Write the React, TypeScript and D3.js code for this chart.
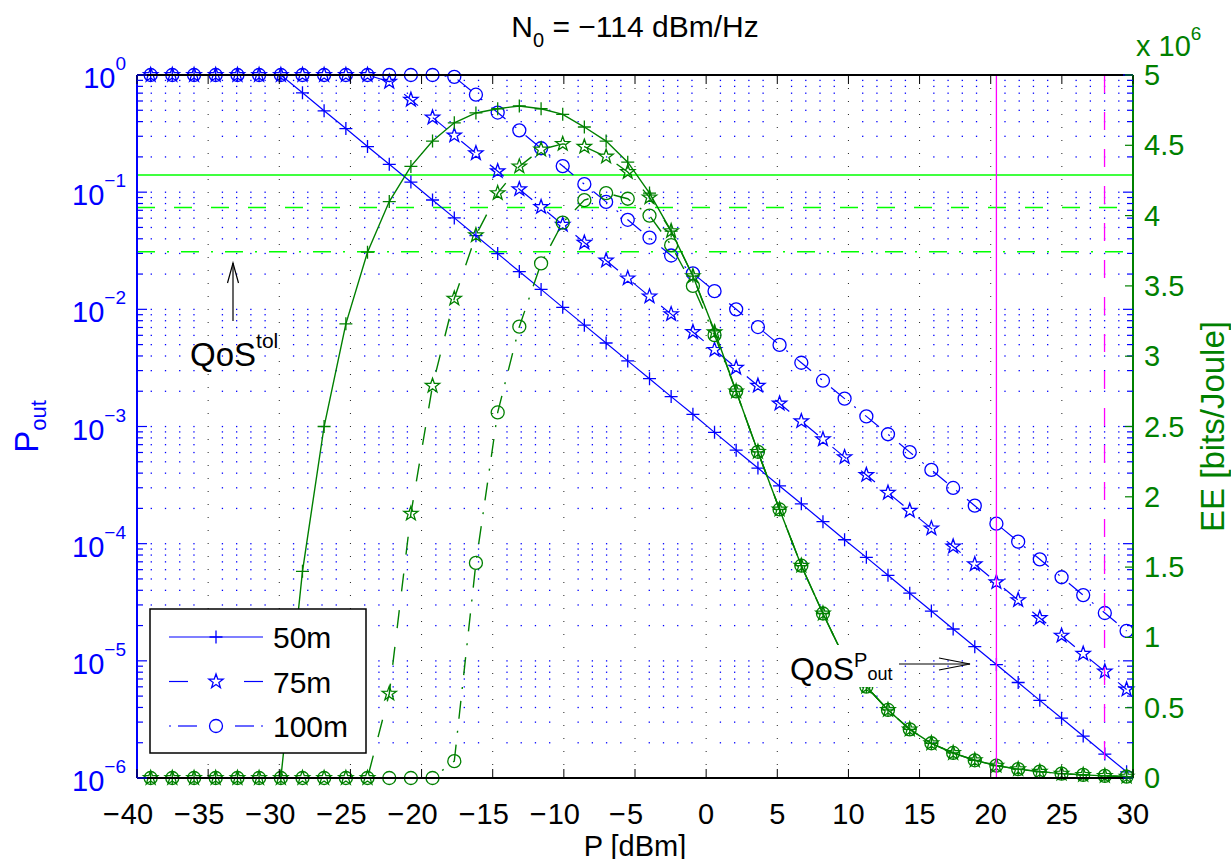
import React from "react";
import * as d3 from "d3";

// ---------- data ----------
const P_DBM = [
  -39.04, -37.52, -35.99, -34.47, -32.94, -31.42, -29.89, -28.37, -26.85, -25.32,
  -23.8, -22.27, -20.75, -19.23, -17.7, -16.18, -14.65, -13.13, -11.6, -10.08,
  -8.56, -7.03, -5.51, -3.98, -2.46, -0.93, 0.59, 2.11, 3.64, 5.16,
  6.69, 8.21, 9.73, 11.26, 12.78, 14.31, 15.83, 17.36, 18.88, 20.4,
  21.93, 23.45, 24.98, 26.5, 28.02, 29.55,
];

const POUT_50 = [
  1, 1, 1, 1, 1, 1, 1, 0.705, 0.495, 0.349,
  0.245, 0.173, 0.122, 0.0857, 0.0603, 0.0425, 0.0299, 0.021, 0.0148, 0.0104,
  7.33e-3, 5.16e-3, 3.63e-3, 2.56e-3, 1.8e-3, 1.27e-3, 8.91e-4, 6.28e-4, 4.42e-4, 3.11e-4,
  2.19e-4, 1.54e-4, 1.08e-4, 7.64e-5, 5.37e-5, 3.78e-5, 2.66e-5, 1.87e-5, 1.32e-5, 9.29e-6,
  6.53e-6, 4.6e-6, 3.24e-6, 2.28e-6, 1.6e-6, 1.13e-6,
];
const POUT_75 = [
  1, 1, 1, 1, 1, 1, 1, 1, 1, 1,
  1, 0.875, 0.615, 0.434, 0.305, 0.215, 0.151, 0.106, 0.0748, 0.0527,
  0.0371, 0.0261, 0.0184, 0.0129, 9.1e-3, 6.41e-3, 4.51e-3, 3.17e-3, 2.23e-3, 1.57e-3,
  1.11e-3, 7.78e-4, 5.48e-4, 3.86e-4, 2.72e-4, 1.91e-4, 1.35e-4, 9.46e-5, 6.67e-5, 4.69e-5,
  3.3e-5, 2.32e-5, 1.64e-5, 1.15e-5, 8.11e-6, 5.7e-6,
];
const POUT_100 = [
  1, 1, 1, 1, 1, 1, 1, 1, 1, 1,
  1, 1, 1, 1, 0.964, 0.679, 0.478, 0.337, 0.237, 0.167,
  0.117, 0.0826, 0.0581, 0.0409, 0.0288, 0.0203, 0.0143, 0.01, 7.06e-3, 4.97e-3,
  3.5e-3, 2.46e-3, 1.73e-3, 1.22e-3, 8.59e-4, 6.04e-4, 4.26e-4, 2.99e-4, 2.11e-4, 1.48e-4,
  1.04e-4, 7.35e-5, 5.17e-5, 3.64e-5, 2.56e-5, 1.8e-5,
];

// energy efficiency, in units of 10^6 bits/Joule
const EE_50 = [
  0, 0, 0, 0, 0, 0, 0, 1.47, 2.5, 3.23,
  3.74, 4.1, 4.35, 4.53, 4.66, 4.73, 4.76, 4.78, 4.76, 4.72,
  4.63, 4.53, 4.38, 4.16, 3.89, 3.57, 3.18, 2.75, 2.32, 1.91,
  1.51, 1.17, 0.85, 0.65, 0.484, 0.346, 0.247, 0.178, 0.126, 0.088,
  0.063, 0.045, 0.031, 0.022, 0.015, 0.01,
];
const EE_75 = [
  0, 0, 0, 0, 0, 0, 0, 0, 0, 0,
  0, 0.6, 1.88, 2.79, 3.41, 3.86, 4.16, 4.35, 4.47, 4.51,
  4.49, 4.42, 4.31, 4.13, 3.89, 3.57, 3.17, 2.75, 2.32, 1.91,
  1.51, 1.17, 0.85, 0.65, 0.484, 0.346, 0.247, 0.178, 0.126, 0.088,
  0.063, 0.045, 0.031, 0.022, 0.015, 0.01,
];
const EE_100 = [
  0, 0, 0, 0, 0, 0, 0, 0, 0, 0,
  0, 0, 0, 0, 0.12, 1.53, 2.6, 3.21, 3.66, 3.95,
  4.11, 4.16, 4.12, 4.0, 3.79, 3.5, 3.15, 2.75, 2.32, 1.91,
  1.51, 1.17, 0.85, 0.65, 0.484, 0.346, 0.247, 0.178, 0.126, 0.088,
  0.063, 0.045, 0.031, 0.022, 0.015, 0.01,
];

const SERIES_NAMES = ["50m", "75m", "100m"];
const X_TICKS = [-40, -35, -30, -25, -20, -15, -10, -5, 0, 5, 10, 15, 20, 25, 30];
const POUT_EXPONENTS = [0, -1, -2, -3, -4, -5, -6];
const EE_TICKS = [0, 0.5, 1, 1.5, 2, 2.5, 3, 3.5, 4, 4.5, 5];
const QOS_TOL_LEVELS = [0.14, 0.074, 0.031]; // P_out tolerance lines (solid, dashed, dash-dot)
const QOS_POWER = [20.4, 28.0]; // power where QoS is met (solid, dashed)

// ---------- styling ----------
const BLUE = "#0000ff";
const DGREEN = "#008000";
const LGREEN = "#00ff00";
const MAGENTA = "#ff00ff";
const FONT = "'Liberation Sans', Arial, Helvetica, sans-serif";
const DASH = "18,19";
const DASHDOT = "18,12,2,12";
const STYLES = [null, DASH, DASHDOT];
const MARKERS = ["plus", "star", "circle"];

const L = 137, R = 1133, T = 75, B = 778;
const TICK_FS = 29;

function plusPath(cx: number, cy: number, s = 6.5) {
  return `M${cx - s},${cy}H${cx + s}M${cx},${cy - s}V${cy + s}`;
}
function starPath(cx: number, cy: number, r = 7.5) {
  const pts: string[] = [];
  for (let k = 0; k < 10; k++) {
    const a = -Math.PI / 2 + (k * Math.PI) / 5;
    const rr = k % 2 === 0 ? r : r * 0.4;
    pts.push(`${(cx + rr * Math.cos(a)).toFixed(2)},${(cy + rr * Math.sin(a)).toFixed(2)}`);
  }
  return "M" + pts.join("L") + "Z";
}

function Marker({ type, cx, cy, color }: { type: string; cx: number; cy: number; color: string }) {
  if (type === "plus") return <path d={plusPath(cx, cy)} stroke={color} strokeWidth={1.3} fill="none" />;
  if (type === "star") return <path d={starPath(cx, cy)} stroke={color} strokeWidth={1.3} fill="none" />;
  return <circle cx={cx} cy={cy} r={6.5} stroke={color} strokeWidth={1.3} fill="none" />;
}

// legend line pieces (x offsets from the legend line start), per line style
const LEGEND_SEGMENTS: number[][][] = [
  [[0, 94]],
  [[0, 19], [75, 94]],
  [[0, 2], [9, 28], [66, 85], [92, 94]],
];

export default function App() {
  const x = d3.scaleLinear().domain([-40, 30]).range([L, R]);
  const yL = d3.scaleLog().domain([1e-6, 1]).range([B, T]);
  const yR = d3.scaleLinear().domain([0, 5]).range([B, T]);

  const poutSeries = [POUT_50, POUT_75, POUT_100];
  const eeSeries = [EE_50, EE_75, EE_100];

  const lineL = d3.line<number>().x((_, i) => x(P_DBM[i])).y((v) => yL(v));
  const lineR = d3.line<number>().x((_, i) => x(P_DBM[i])).y((v) => yR(v));

  // grid
  const minorRows: number[] = [];
  d3.range(-6, 0).forEach((k) => {
    d3.range(1, 10).forEach((m) => {
      const v = m * Math.pow(10, k);
      if (v > 1.5e-6) minorRows.push(v);
    });
  });
  const minorCols = d3.range(-39, 30).filter((d) => d % 5 !== 0);
  const dots: JSX.Element[] = [];
  minorRows.forEach((v, ri) => {
    minorCols.forEach((c, ci) => {
      dots.push(
        <rect key={`d${ri}-${ci}`} x={x(c) - 0.6} y={yL(v) - 0.6} width={1.3} height={1.3} fill={BLUE} />
      );
    });
  });

  const yTicksMinor: number[] = minorRows.filter((v) => Math.abs(Math.log10(v) - Math.round(Math.log10(v))) > 1e-6);

  const digitW = 0.556 * TICK_FS;

  return (
    <div style={{ position: "absolute", left: 0, top: 0 }}>
      <svg width={1231} height={859} style={{ display: "block", background: "#fff" }} fontFamily={FONT}>
        {/* grid */}
        <g>{dots}</g>
        {X_TICKS.filter((d) => d > -40 && d < 30).map((d) => (
          <line key={`vg${d}`} x1={x(d)} x2={x(d)} y1={T} y2={B} stroke="#222" strokeWidth={1} strokeDasharray="1,12" />
        ))}

        {/* QoS tolerance lines */}
        {QOS_TOL_LEVELS.map((v, i) => (
          <line key={`tol${i}`} x1={L} x2={R} y1={yL(v)} y2={yL(v)} stroke={LGREEN} strokeWidth={1.5}
            strokeDasharray={STYLES[i] || undefined} />
        ))}

        {/* P_out curves */}
        {poutSeries.map((s, si) => (
          <g key={`pl${si}`}>
            <path d={lineL(s) || ""} fill="none" stroke={BLUE} strokeWidth={1.2} strokeDasharray={STYLES[si] || undefined} />
            {s.map((v, i) => (
              <Marker key={i} type={MARKERS[si]} cx={x(P_DBM[i])} cy={yL(v)} color={BLUE} />
            ))}
          </g>
        ))}

        {/* EE curves */}
        {eeSeries.map((s, si) => (
          <g key={`el${si}`}>
            <path d={lineR(s) || ""} fill="none" stroke={DGREEN} strokeWidth={1.4} strokeDasharray={STYLES[si] || undefined} />
            {s.map((v, i) => (
              <Marker key={i} type={MARKERS[si]} cx={x(P_DBM[i])} cy={yR(v)} color={DGREEN} />
            ))}
          </g>
        ))}

        {/* QoS power lines */}
        {QOS_POWER.map((p, i) => (
          <line key={`qp${i}`} x1={x(p)} x2={x(p)} y1={T} y2={B} stroke={MAGENTA} strokeWidth={1.3}
            strokeDasharray={STYLES[i] || undefined} />
        ))}

        {/* axes box */}
        <line x1={L} x2={R} y1={T} y2={T} stroke="#000" strokeWidth={2} />
        <line x1={L} x2={R} y1={B} y2={B} stroke="#000" strokeWidth={2} />
        <line x1={L} x2={L} y1={T} y2={B} stroke={BLUE} strokeWidth={2} />
        <line x1={R} x2={R} y1={T} y2={B} stroke={DGREEN} strokeWidth={2} />

        {/* x ticks: digits centred on the tick, minus sign hanging left */}
        {X_TICKS.map((d) => {
          const s = String(Math.abs(d));
          const half = (s.length * digitW) / 2;
          return (
            <g key={`xt${d}`}>
              <line x1={x(d)} x2={x(d)} y1={B} y2={B - 9} stroke="#000" strokeWidth={1} />
              <line x1={x(d)} x2={x(d)} y1={T} y2={T + 9} stroke="#000" strokeWidth={1} />
              <text x={x(d)} y={824} textAnchor="middle" fontSize={TICK_FS} fill="#000">{s}</text>
              {d < 0 && (
                <text x={x(d) - half - 1} y={824} textAnchor="end" fontSize={TICK_FS} fill="#000">{"\u2212"}</text>
              )}
            </g>
          );
        })}

        {/* left log ticks (mirrored on right) */}
        {POUT_EXPONENTS.map((e) => (
          <g key={`yt${e}`}>
            <line x1={L} x2={L + 10} y1={yL(Math.pow(10, e))} y2={yL(Math.pow(10, e))} stroke={BLUE} strokeWidth={1.2} />
            <line x1={R} x2={R - 10} y1={yL(Math.pow(10, e))} y2={yL(Math.pow(10, e))} stroke={BLUE} strokeWidth={1.2} />
            <text x={126} y={yL(Math.pow(10, e)) + 13} textAnchor="end" fontSize={TICK_FS} fill={BLUE}>
              10<tspan dy={-18} fontSize={19}>{e < 0 ? "\u2212" + Math.abs(e) : String(e)}</tspan>
            </text>
          </g>
        ))}
        {yTicksMinor.map((v, i) => (
          <g key={`ym${i}`}>
            <line x1={L} x2={L + 6} y1={yL(v)} y2={yL(v)} stroke={BLUE} strokeWidth={1.2} />
            <line x1={R} x2={R - 6} y1={yL(v)} y2={yL(v)} stroke={BLUE} strokeWidth={1.2} />
          </g>
        ))}

        {/* right EE ticks */}
        {EE_TICKS.map((d) => (
          <g key={`rt${d}`}>
            <line x1={R} x2={R - 8} y1={yR(d)} y2={yR(d)} stroke={DGREEN} strokeWidth={1.2} />
            <text x={1144} y={yR(d) + 10} fontSize={TICK_FS} fill={DGREEN}>{String(d)}</text>
          </g>
        ))}
        <text x={1136} y={56} fontSize={TICK_FS} fill={DGREEN}>
          x 10<tspan dy={-16} fontSize={19}>6</tspan>
        </text>

        {/* axis labels */}
        <text transform={`translate(1224,${(T + B) / 2}) rotate(-90)`} textAnchor="middle" fontSize={33} fill={DGREEN}>
          EE [bits/Joule]
        </text>
        <text transform={`translate(38,${(T + B) / 2}) rotate(-90)`} textAnchor="middle" fontSize={33} fill={BLUE}>
          P<tspan dy={8} fontSize={22}>out</tspan>
        </text>
        <text x={(L + R) / 2} y={856} textAnchor="middle" fontSize={TICK_FS} fill="#000">P [dBm]</text>

        {/* title */}
        <text x={(L + R) / 2} y={37} textAnchor="middle" fontSize={30} fill="#000">
          N<tspan dy={10} fontSize={20}>0</tspan><tspan dy={-10} fontSize={30}> = {"\u2212"}114 dBm/Hz</tspan>
        </text>

        {/* annotations */}
        <line x1={233} x2={233} y1={321} y2={263} stroke="#000" strokeWidth={1.2} />
        <path d="M227.5,283L233,263L238.5,283" fill="none" stroke="#000" strokeWidth={1.2} />
        <text x={190} y={366} fontSize={33} fill="#000">
          QoS<tspan dy={-18} fontSize={21}>tol</tspan>
        </text>

        <rect x={789} y={645} width={104} height={42} fill="#fff" />
        <text x={790} y={680} fontSize={32} fill="#000">
          QoS<tspan dy={-13} fontSize={20}>P</tspan><tspan dy={13} fontSize={18}>out</tspan>
        </text>
        <line x1={899} x2={970} y1={664} y2={664} stroke="#000" strokeWidth={1.2} />
        <path d="M939,658L970,664L939,670" fill="none" stroke="#000" strokeWidth={1.2} />

        {/* legend */}
        <rect x={150} y={609} width={216} height={144} fill="#fff" stroke="#000" strokeWidth={1.5} />
        {SERIES_NAMES.map((n, i) => {
          const cy = 637 + i * 44.5;
          return (
            <g key={`lg${i}`}>
              {LEGEND_SEGMENTS[i].map((sg, k) => (
                <line key={k} x1={169 + sg[0]} x2={169 + sg[1]} y1={cy} y2={cy} stroke={BLUE} strokeWidth={1.2} />
              ))}
              <Marker type={MARKERS[i]} cx={216} cy={cy} color={BLUE} />
              <text x={273} y={cy + 11} fontSize={30} fill="#000">{n}</text>
            </g>
          );
        })}
      </svg>
    </div>
  );
}
